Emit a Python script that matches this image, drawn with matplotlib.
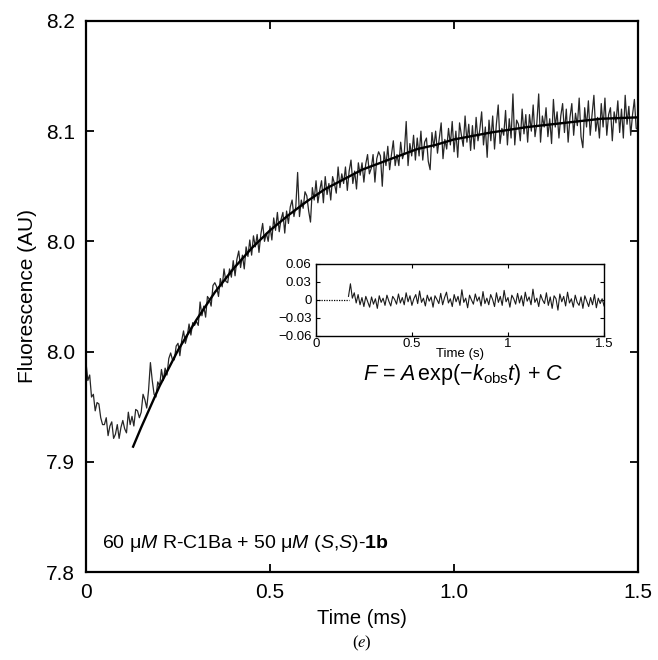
import numpy as np
import matplotlib
matplotlib.use('Agg')
import matplotlib.pyplot as plt

plt.rcParams['font.family'] = 'Liberation Sans'
plt.rcParams['mathtext.fontset'] = 'custom'
plt.rcParams['mathtext.rm'] = 'Liberation Sans'
plt.rcParams['mathtext.it'] = 'Liberation Sans:italic'
plt.rcParams['mathtext.bf'] = 'Liberation Sans:bold'

trace = [
    7.952, 7.939, 7.943, 7.927, 7.929, 7.917, 7.923, 7.922, 7.912, 7.907,
    7.907, 7.912, 7.899, 7.906, 7.909, 7.897, 7.900, 7.907, 7.897, 7.905,
    7.910, 7.904, 7.901, 7.916, 7.907, 7.913, 7.906, 7.918, 7.917, 7.912,
    7.916, 7.929, 7.925, 7.919, 7.932, 7.952, 7.939, 7.929, 7.927, 7.938,
    7.935, 7.947, 7.939, 7.948, 7.943, 7.955, 7.959, 7.954, 7.954, 7.964,
    7.966, 7.957, 7.968, 7.975, 7.966, 7.971, 7.980, 7.972, 7.981, 7.979,
    7.982, 7.979, 7.996, 7.986, 7.993, 7.985, 8.000, 7.998, 7.993, 8.008,
    8.010, 8.007, 8.000, 8.013, 8.007, 8.020, 8.011, 8.010, 8.020, 8.014,
    8.026, 8.015, 8.027, 8.033, 8.021, 8.030, 8.020, 8.036, 8.029, 8.041,
    8.030, 8.044, 8.036, 8.045, 8.032, 8.045, 8.053, 8.040, 8.046, 8.040,
    8.051, 8.041, 8.057, 8.048, 8.061, 8.047, 8.056, 8.061, 8.046, 8.062,
    8.053, 8.065, 8.070, 8.058, 8.065, 8.090, 8.058, 8.070, 8.064, 8.076,
    8.073, 8.062, 8.054, 8.079, 8.070, 8.084, 8.068, 8.077, 8.084, 8.068,
    8.087, 8.074, 8.082, 8.070, 8.087, 8.082, 8.075, 8.094, 8.079, 8.089,
    8.082, 8.094, 8.077, 8.091, 8.099, 8.082, 8.091, 8.078, 8.097, 8.088,
    8.097, 8.083, 8.096, 8.103, 8.089, 8.093, 8.103, 8.083, 8.100, 8.105,
    8.102, 8.080, 8.105, 8.095, 8.109, 8.092, 8.103, 8.113, 8.095, 8.103,
    8.095, 8.112, 8.100, 8.105, 8.127, 8.095, 8.111, 8.102, 8.117, 8.099,
    8.115, 8.102, 8.120, 8.099, 8.112, 8.115, 8.098, 8.092, 8.119, 8.108,
    8.120, 8.104, 8.115, 8.126, 8.100, 8.114, 8.107, 8.122, 8.110, 8.127,
    8.105, 8.120, 8.101, 8.126, 8.117, 8.109, 8.131, 8.112, 8.125, 8.106,
    8.124, 8.107, 8.130, 8.113, 8.121, 8.134, 8.110, 8.123, 8.101, 8.128,
    8.113, 8.131, 8.107, 8.125, 8.139, 8.111, 8.122, 8.117, 8.135, 8.110,
    8.129, 8.115, 8.147, 8.110, 8.128, 8.125, 8.113, 8.136, 8.118, 8.132,
    8.112, 8.132, 8.120, 8.139, 8.116, 8.126, 8.147, 8.112, 8.131, 8.123,
    8.137, 8.116, 8.129, 8.111, 8.143, 8.123, 8.134, 8.115, 8.131, 8.140,
    8.119, 8.136, 8.112, 8.130, 8.140, 8.117, 8.133, 8.124, 8.144, 8.116,
    8.108, 8.137, 8.123, 8.142, 8.117, 8.132, 8.146, 8.120, 8.130, 8.115,
    8.140, 8.123, 8.144, 8.117, 8.132, 8.137, 8.113, 8.134, 8.126, 8.142,
    8.119, 8.136, 8.115, 8.146, 8.125, 8.138, 8.117, 8.132, 8.143, 8.122,
    8.121,
]
t_trace = np.linspace(0, 1.5, len(trace))

# single exponential fit curve
fit_t = [0.128, 0.15, 0.2, 0.25, 0.3, 0.35, 0.4, 0.45, 0.5, 0.55, 0.6, 0.65,
         0.7, 0.75, 0.8, 0.85, 0.9, 0.95, 1.0, 1.1, 1.2, 1.3, 1.4, 1.5]
fit_v = [7.891, 7.905, 7.935, 7.961, 7.983, 8.003, 8.020, 8.035, 8.048, 8.059,
         8.069, 8.078, 8.085, 8.092, 8.097, 8.102, 8.107, 8.110, 8.114, 8.119,
         8.123, 8.126, 8.129, 8.130]

# residuals (x 0.001), 0.17 - 1.5 s
resid = [6, 27, 3, 12, -5, 9, -8, 4, -11, 6, -3, -12, 5, -7, 2, -14, 7, -4, 3, -9,
         8, -2, -10, 6, 1, -7, 10, -5, 4, -8, 12, -3, 7, -9, 2, 9, -6, 15, -4, 3,
         -10, 8, -2, 5, -12, 7, 1, -6, 11, -8, 4, 13, -5, 2, -11, 9, -3, 6, -9, 17,
         -4, 3, -13, 8, 0, -7, 10, -2, 5, -10, 14, -6, 3, -8, 9, 1, -11, 12, -4, 6,
         -9, 16, -3, 4, -12, 8, 2, -7, 11, -5, 7, -10, 13, -2, 5, -8, 18, -4, 3, -11,
         9, 0, -6, 12, -9, 5, -14, 7, 2, -17, 10, -3, 6, -10, 13, -5, 2, -12, 8, -4,
         -9, 5, -14, 7, -2, -11, 4, -8, 9, -13, 3, -6, 2, -10]
t_resid = np.linspace(0.17, 1.5, len(resid))
zero_t = [0, 0.17]
zero_v = [0, 0]

x_ticks = [0, 0.5, 1.0, 1.5]
x_labels = ['0', '0.5', '1.0', '1.5']
y_ticks = [7.8, 7.88, 7.96, 8.04, 8.12, 8.2]
y_labels = ['%.1f' % v for v in y_ticks]

in_x_ticks = [0, 0.5, 1, 1.5]
in_x_labels = ['0', '0.5', '1', '1.5']
in_y_ticks = [-0.06, -0.03, 0, 0.03, 0.06]
in_y_labels = ['\u22120.06', '\u22120.03', '0', '0.03', '0.06']

fig = plt.figure(figsize=(6.58, 6.60), dpi=100)
ax = fig.add_axes([0.1307, 0.1333, 0.839, 0.835])
ax.plot(t_trace, trace, color='0.15', lw=0.9)
ax.plot(fit_t, fit_v, color='black', lw=1.7)
ax.set_xlim(0, 1.5)
ax.set_ylim(7.8, 8.2)
ax.set_xticks(x_ticks)
ax.set_xticklabels(x_labels)
ax.set_yticks(y_ticks)
ax.set_yticklabels(y_labels)
ax.tick_params(direction='in', length=6, width=1.3, labelsize=15,
               top=True, right=True, pad=8)
for s in ax.spines.values():
    s.set_linewidth(1.6)
ax.set_xlabel('Time (ms)', fontsize=14.5, labelpad=5)
ax.set_ylabel('Fluorescence (AU)', fontsize=15, labelpad=6)

ax.text(0.044, 7.821, r'60 μ$M$ R-C1Ba + 50 μ$M$ ($S$,$S$)-$\mathbf{1b}$',
        fontsize=14, va='center', ha='left')
ax.text(1.024, 7.9435, r'$F$ = $A\,$exp($-k_{\mathrm{obs}}t$) + $C$',
        fontsize=15.5, va='center', ha='center')

# residual inset
axin = fig.add_axes([0.480, 0.491, 0.438, 0.109])
axin.plot(zero_t, zero_v, color='black', lw=0.9, ls=(0, (1, 1)))
axin.plot(t_resid, np.array(resid) / 1000.0, color='0.1', lw=0.8)
axin.set_xlim(0, 1.5)
axin.set_ylim(-0.06, 0.06)
axin.set_xticks(in_x_ticks)
axin.set_xticklabels(in_x_labels)
axin.set_yticks(in_y_ticks)
axin.set_yticklabels(in_y_labels)
axin.tick_params(direction='in', length=3, width=0.8, labelsize=9.5,
                 top=True, right=True)
axin.tick_params(axis='x', pad=1.5)
axin.tick_params(axis='y', pad=3)
for s in axin.spines.values():
    s.set_linewidth(1.0)
axin.set_xlabel('Time (s)', fontsize=9.5, labelpad=-1.5)

fig.text(0.550, 0.025, r'($e$)', family='Liberation Serif', math_fontfamily='stix',
         fontsize=12, ha='center', va='center')

fig.savefig('out.png', dpi=100)
